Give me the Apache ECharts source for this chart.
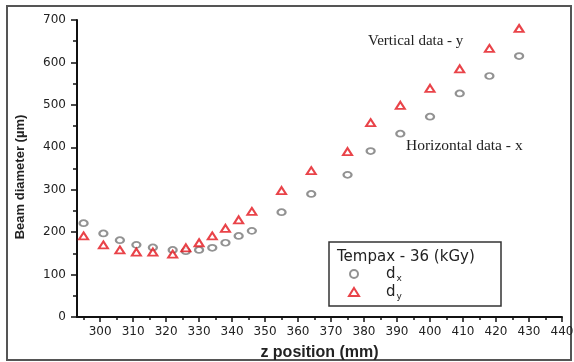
<!DOCTYPE html>
<html>
<head>
<meta charset="utf-8">
<script src="https://cdn.jsdelivr.net/npm/echarts@6/dist/echarts.min.js"></script>
<style>
  html, body { margin: 0; padding: 0; background: #fff; }
  #chart { width: 574px; height: 362px; }
</style>
</head>
<body>
<div id="chart"></div>
<script>
// Beam diameter along the beam line (Tempax glass, 36 kGy)
const zPosition = [295, 301, 306, 311, 316, 322, 326, 330, 334, 338, 342, 346, 355, 364, 375, 382, 391, 400, 409, 418, 427];
const diameterX = [221, 197, 181, 170, 164, 158, 155, 158, 163, 175, 191, 203, 247, 290, 335, 391, 432, 472, 527, 568, 615];
const diameterY = [191, 170, 158, 153, 153, 148, 163, 175, 191, 209, 229, 249, 298, 345, 390, 458, 499, 539, 585, 633, 680];

const xMajorTicks = [300, 310, 320, 330, 340, 350, 360, 370, 380, 390, 400, 410, 420, 430, 440];
const xMinorTicks = [295, 305, 315, 325, 335, 345, 355, 365, 375, 385, 395, 405, 415, 425, 435];

const pairs = (xs, ys) => xs.map((x, i) => [x, ys[i]]);

const chart = echarts.init(document.getElementById('chart'), null, { renderer: 'canvas' });

const axisColor = '#111';
const labelFont = { fontFamily: 'DejaVu Sans', fontSize: 12, color: '#222' };

chart.setOption({
  animation: false,
  backgroundColor: '#fff',
  grid: { left: 77, right: 12, top: 20, bottom: 45, outerBoundsMode: 'none', containLabel: false },
  xAxis: [
    {
      type: 'value',
      min: 293,
      max: 440,
      name: 'z position (mm)',
      nameLocation: 'middle',
      nameGap: 28,
      nameTextStyle: { fontFamily: 'Liberation Sans', fontWeight: 'bold', fontSize: 16, color: '#222' },
      axisLine: { show: true, onZero: false, lineStyle: { color: axisColor, width: 2 } },
      axisTick: { show: true, customValues: xMajorTicks, length: 5, lineStyle: { color: axisColor, width: 1.5 } },
      axisLabel: Object.assign({ customValues: xMajorTicks, margin: 9 }, labelFont),
      splitLine: { show: false }
    },
    {
      type: 'value',
      min: 293,
      max: 440,
      position: 'bottom',
      axisLine: { show: false },
      axisTick: { show: true, customValues: xMinorTicks, length: 3, lineStyle: { color: axisColor, width: 1.5 } },
      axisLabel: { show: false },
      splitLine: { show: false }
    }
  ],
  yAxis: {
    type: 'value',
    min: 0,
    max: 700,
    interval: 100,
    axisLine: { show: true, lineStyle: { color: axisColor, width: 2 } },
    axisTick: { show: true, length: 6, lineStyle: { color: axisColor, width: 1.5 } },
    minorTick: { show: true, splitNumber: 2, length: 4, lineStyle: { color: axisColor, width: 1.5 } },
    axisLabel: Object.assign({ margin: 11 }, labelFont),
    splitLine: { show: false }
  },
  legend: {
    orient: 'vertical',
    left: 348,
    top: 265,
    itemWidth: 10,
    itemHeight: 8,
    itemGap: 0,
    padding: 0,
    data: ['dx', 'dy'],
    formatter: name => name === 'dx' ? '{d|d}{s|x}' : '{d|d}{s|y}',
    textStyle: {
      rich: {
        d: { fontFamily: 'DejaVu Sans', fontSize: 15, color: '#222', padding: [0, 0, 0, 22], lineHeight: 16 },
        s: { fontFamily: 'DejaVu Sans', fontSize: 9, color: '#222', padding: [9, 0, 0, 1], lineHeight: 16 }
      }
    }
  },
  series: [
    {
      name: 'dx',
      type: 'scatter',
      data: pairs(zPosition, diameterX),
      symbol: 'emptyCircle',
      symbolSize: [8, 6],
      itemStyle: { color: '#777', borderColor: '#777', borderWidth: 1 }
    },
    {
      name: 'dy',
      type: 'scatter',
      data: pairs(zPosition, diameterY),
      symbol: 'emptyTriangle',
      symbolSize: [9, 7],
      itemStyle: { color: '#e3141c', borderColor: '#e3141c', borderWidth: 1.4 }
    }
  ],
  graphic: [
    {
      type: 'rect',
      shape: { x: 7, y: 6, width: 564, height: 354 },
      style: { fill: null, stroke: '#555', lineWidth: 2 },
      silent: true
    },
    {
      type: 'rect',
      shape: { x: 329, y: 242, width: 172, height: 64 },
      style: { fill: null, stroke: '#333', lineWidth: 1.5 },
      silent: true
    },
    {
      type: 'text',
      left: 337,
      top: 250,
      style: { text: 'Tempax - 36 (kGy)', font: '15px "DejaVu Sans"', fill: '#222' }
    },
    {
      // y-axis title, rotated to read bottom-to-top
      type: 'text',
      x: 20,
      y: 177,
      rotation: Math.PI / 2,
      style: {
        text: 'Beam diameter (\u00b5m)',
        font: 'bold 13px "Liberation Sans"',
        fill: '#222',
        align: 'center',
        verticalAlign: 'middle'
      }
    },
    {
      type: 'text',
      left: 368,
      top: 34,
      style: { text: 'Vertical data - y', font: '15px "Liberation Serif"', fill: '#222' }
    },
    {
      type: 'text',
      left: 406,
      top: 138,
      style: { text: 'Horizontal data - x', font: '15.5px "Liberation Serif"', fill: '#222' }
    }
  ]
});
</script>
</body>
</html>
